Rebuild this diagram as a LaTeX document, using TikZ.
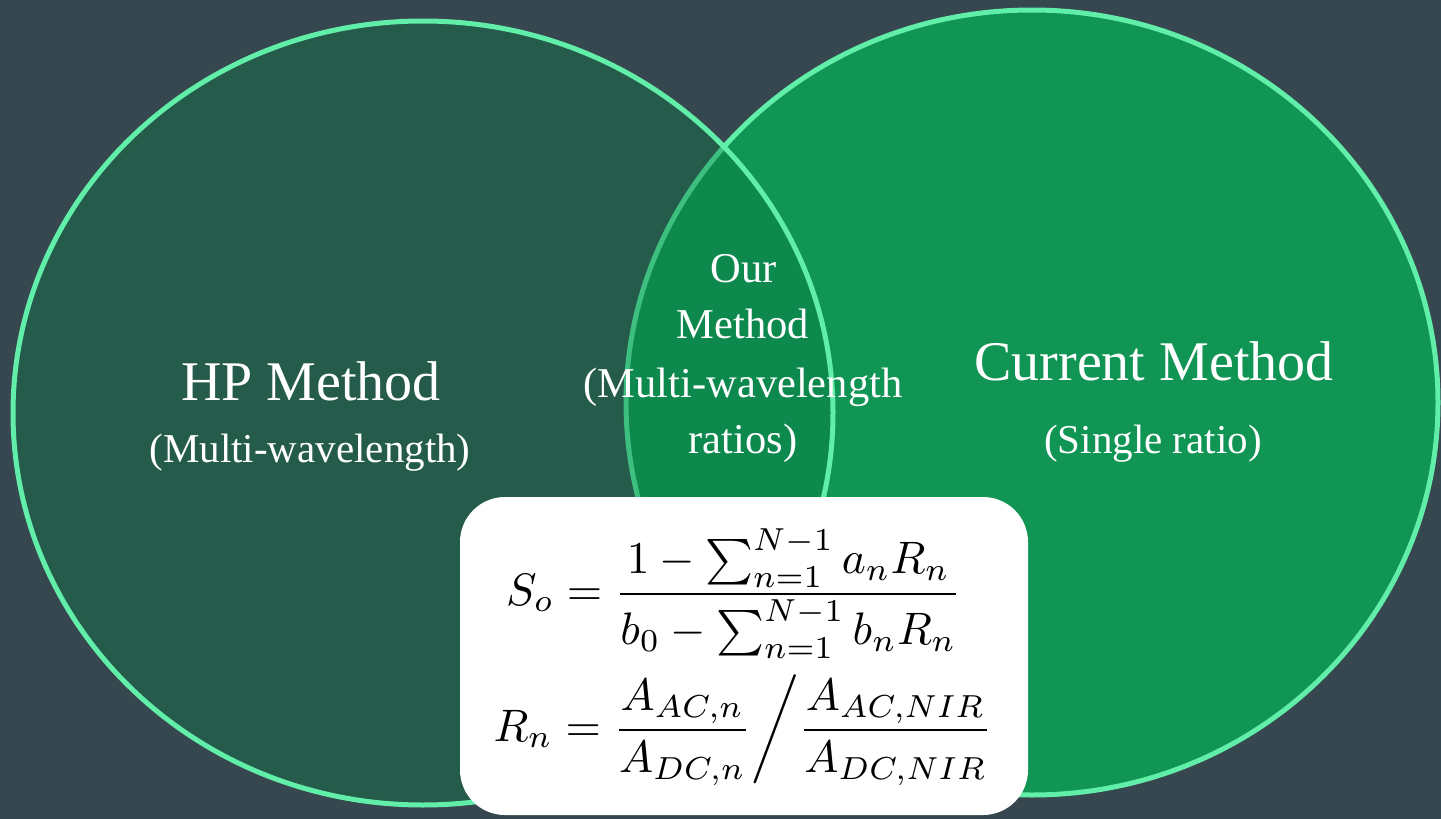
\documentclass[tikz,border=0pt]{standalone}
\usepackage[no-math]{fontspec}
\usepackage{amsmath}
\newfontfamily\labelfont{Liberation Serif}
\definecolor{bgslate}{RGB}{55,71,79}
\definecolor{rightgreen}{RGB}{16,149,84}
\definecolor{leftgreen}{RGB}{10,121,69}
\definecolor{ringgreen}{RGB}{96,238,168}
\begin{document}
\begin{tikzpicture}[x=1pt,y=-1pt,
  ring/.style={draw=ringgreen, line width=5pt},
  bigtitle/.style={text=white, font=\labelfont\fontsize{56}{64}\selectfont, anchor=base, inner sep=0pt},
  subtitle/.style={text=white, font=\labelfont\fontsize{41}{48}\selectfont, anchor=base, inner sep=0pt},
  midtext/.style={text=white, font=\labelfont\fontsize{42.5}{50}\selectfont, anchor=base, inner sep=0pt},
  eqline/.style={text=black, font=\fontsize{10}{12}\selectfont, scale=4.55, anchor=base, inner sep=0pt}]
\fill[bgslate] (0,0) rectangle (1441,819);
\useasboundingbox (0,0) rectangle (1441,819);
\draw[ring, fill=rightgreen] (1032,402.5) ellipse [x radius=406, y radius=392.5];
\draw[ring, fill=leftgreen, fill opacity=0.4] (423,413) ellipse [x radius=410, y radius=392];
\fill[white, rounded corners=45pt] (460,497) rectangle (1028,815);
\node[bigtitle] (hp) at (311,400) {HP Method};
\node[subtitle] (hpsub) at (310,462) {(Multi-wavelength)};
\node[bigtitle] (cur) at (1154,380) {Current Method};
\node[subtitle] (cursub) at (1153,453) {(Single ratio)};
\node[midtext] (our1) at (744,282) {Our};
\node[midtext] (our2) at (743,338) {Method};
\node[midtext] (our3) at (743,397) {(Multi-wavelength};
\node[midtext] (our4) at (743,453) {ratios)};
\node[eqline] (eqS) at (734,605) {$S_o = \dfrac{1-\sum_{n=1}^{N-1} a_nR_n}{b_0-\sum_{n=1}^{N-1} b_nR_n}$};
\node[eqline] (eqR) at (743,741) {$R_n = \dfrac{A_{AC,n}}{A_{DC,n}}\bigg/\dfrac{A_{AC,NIR}}{A_{DC,NIR}}$};
\end{tikzpicture}
\end{document}
